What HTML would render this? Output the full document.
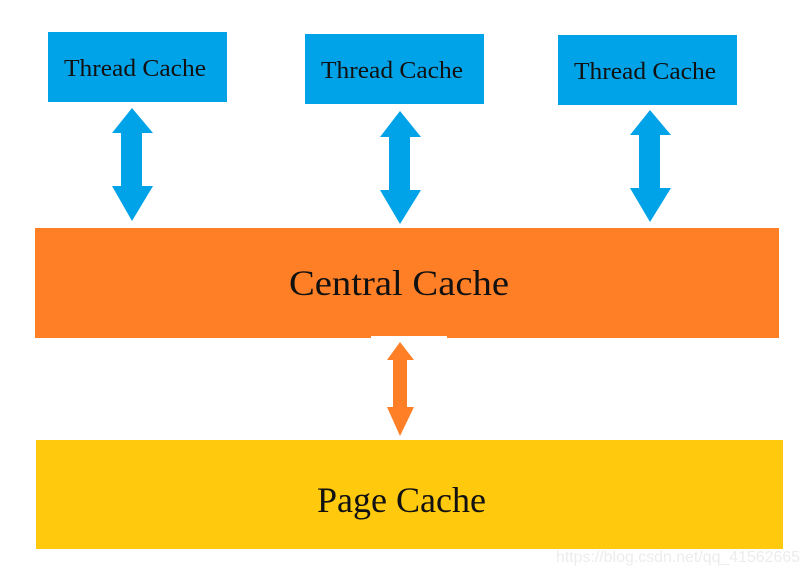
<!DOCTYPE html>
<html><head><style>html,body{margin:0;padding:0;background:#fff}svg{display:block}</style></head>
<body>
<svg width="808" height="575" viewBox="0 0 808 575" xmlns="http://www.w3.org/2000/svg">
<rect width="808" height="575" fill="#fff"/>
<g fill="#00A2E8">
<rect x="48" y="32" width="179" height="70"/>
<rect x="305" y="34" width="179" height="70"/>
<rect x="558" y="35" width="179" height="70"/>
<polygon points="132,108 153,133 142,133 142,186 153,186 132,221 112,186 121,186 121,133 112,133"/>
<polygon points="400,111 421,137 410,137 410,190 421,190 400,224 380,190 389,190 389,137 380,137"/>
<polygon points="650,110 671,135 660,135 660,188 671,188 650,222 630,188 639,188 639,135 630,135"/>
</g>
<rect x="35" y="228" width="744" height="110" fill="#FF7F27"/>
<rect x="371" y="336" width="76" height="3" fill="#fff"/>
<polygon fill="#FF7F27" points="400,342 414,360 407,360 407,407 414,407 400,436 387,407 393,407 393,360 387,360"/>
<rect x="36" y="440" width="747" height="109" fill="#FFC90E"/>
<g font-family="Liberation Serif, serif" fill="#111">
<text x="64" y="76" font-size="24" textLength="142" lengthAdjust="spacingAndGlyphs">Thread Cache</text>
<text x="321" y="78" font-size="24" textLength="142" lengthAdjust="spacingAndGlyphs">Thread Cache</text>
<text x="574" y="79" font-size="24" textLength="142" lengthAdjust="spacingAndGlyphs">Thread Cache</text>
<text x="289" y="295" font-size="36" textLength="220" lengthAdjust="spacingAndGlyphs">Central Cache</text>
<text x="317" y="512" font-size="36" textLength="169" lengthAdjust="spacingAndGlyphs">Page Cache</text>
</g>
<text x="556" y="562" font-family="Liberation Sans, sans-serif" font-size="16" fill="#ececec" textLength="244" lengthAdjust="spacingAndGlyphs">https://blog.csdn.net/qq_41562665</text>
</svg>
</body></html>
